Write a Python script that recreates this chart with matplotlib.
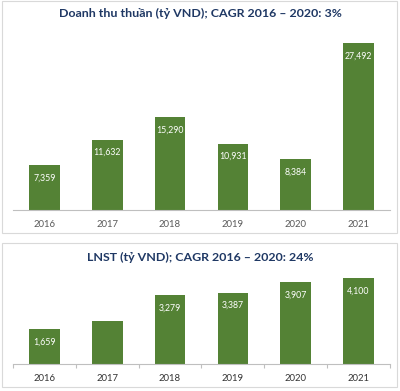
import matplotlib.pyplot as plt
from matplotlib.patches import Rectangle

years = ["2016", "2017", "2018", "2019", "2020", "2021"]
revenue = [7359, 11632, 15290, 10931, 8384, 27492]
revenue_labels = ["7,359", "11,632", "15,290", "10,931", "8,384", "27,492"]
profit = [1659, 2070, 3279, 3387, 3907, 4100]
profit_labels = ["1,659", "", "3,279", "3,387", "3,907", "4,100"]

title_top = "Doanh thu thuần (tỷ VND); CAGR 2016 – 2020: 3%"
title_bottom = "LNST (tỷ VND); CAGR 2016 – 2020: 24%"

plt.rcParams['font.family'] = ['Lato', 'DejaVu Sans']

green = "#548235"
navy = "#1F3864"
W, H = 400, 391

fig = plt.figure(figsize=(4, 3.91), dpi=100)

# khung cho tung panel
for y0, y1 in [(1, 233), (243, 387)]:
    fig.patches.append(Rectangle((2 / W, 1 - y1 / H), 395 / W, (y1 - y0) / H,
                                 transform=fig.transFigure, fill=False,
                                 edgecolor="#d9d9d9", linewidth=0.8))

def panel(top_px, base_px, ymax, values, labels, title, title_y, tick_color, ticks_out):
    left, right = 13 / W, 390 / W
    ax = fig.add_axes([left, 1 - base_px / H, right - left, (base_px - top_px) / H])
    x = range(len(values))
    ax.bar(x, values, width=0.49, color=green)
    ax.set_xlim(-0.5, len(values) - 0.5)
    ax.set_ylim(0, ymax)
    for s in ["top", "right", "left"]:
        ax.spines[s].set_visible(False)
    ax.spines["bottom"].set_color("#bfbfbf")
    ax.spines["bottom"].set_linewidth(0.8)
    ax.set_yticks([])
    ax.set_xticks(list(x))
    ax.set_xticklabels(years, fontsize=6.8, color=tick_color)
    ax.tick_params(axis="x", length=0, pad=7)
    if ticks_out:
        ax.set_xticks([i - 0.5 for i in range(len(values) + 1)], minor=True)
        ax.tick_params(axis="x", which="minor", length=3, color="#bfbfbf", width=0.8)
    off = ymax * 12.5 / (base_px - top_px)
    for i, (v, lab) in enumerate(zip(values, labels)):
        if lab:
            ax.text(i, v - off, lab, ha="center", va="center", color="white", fontsize=6.3)
    fig.text(0.5, 1 - title_y / H, title, ha="center", va="center",
             fontsize=8.9, fontweight="bold", color=navy)
    return ax

panel(30, 210, 29700, revenue, revenue_labels, title_top, 13, "#595959", False)
panel(270, 364, 4493, profit, profit_labels, title_bottom, 257, "#333333", True)

fig.savefig("out.png", dpi=100)
